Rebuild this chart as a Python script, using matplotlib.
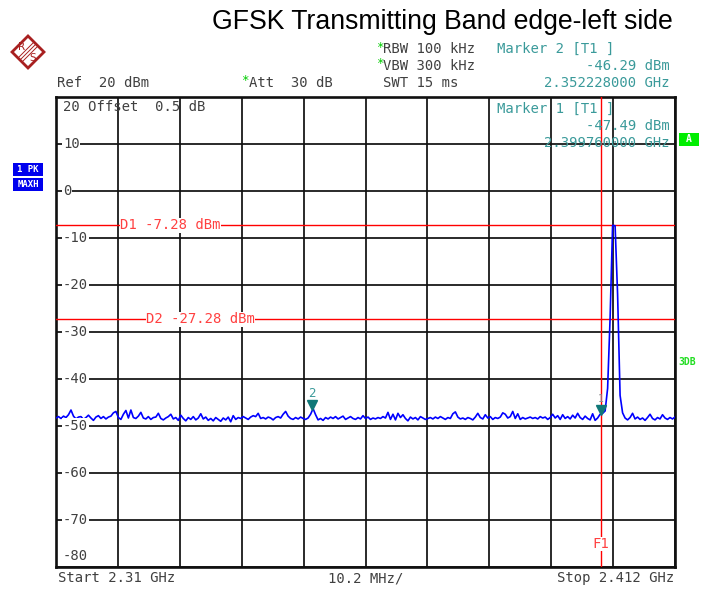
import numpy as np
import matplotlib
matplotlib.use("Agg")
import matplotlib.pyplot as plt
from matplotlib.patches import Polygon, Rectangle
import matplotlib.transforms as mtransforms

# sweep settings
f_start = 2.31
f_stop = 2.412
ref_level = 20
y_bottom = -80

# trace 1 (PK / MAXH), dBm, evenly spaced from start to stop
levels = [
    -48.3, -48.0, -48.4, -47.9, -48.2, -47.6, -46.6, -47.9, -48.5, -48.1,
    -48.0, -48.6, -48.2, -47.7, -48.3, -48.8, -48.1, -47.8, -48.4, -48.0,
    -48.5, -48.1, -47.9, -47.2, -46.9, -48.2, -48.6, -47.5, -46.7, -48.3,
    -46.6, -48.2, -48.4, -47.9, -47.1, -48.3, -48.5, -48.0, -48.6, -48.2,
    -48.1, -47.3, -48.4, -48.7, -48.3, -48.0, -47.5, -48.5, -48.2, -48.8,
    -47.7, -48.4, -48.9, -48.2, -48.6, -48.0, -48.7, -48.3, -47.4, -48.5,
    -48.1, -48.8, -48.4, -48.9, -48.2, -48.6, -49.0, -48.3, -48.7, -48.1,
    -49.1, -47.8, -48.6, -48.2, -48.4, -48.0, -48.3, -48.6, -48.1, -47.8,
    -48.0, -47.3, -48.4, -48.2, -48.5, -48.1, -48.3, -48.7, -48.2, -48.0,
    -48.3, -47.5, -46.9, -47.9, -48.4, -48.6, -48.2, -48.5, -48.1, -48.4,
    -48.6, -48.3, -47.5, -46.3, -47.6, -48.7, -48.4, -48.8, -48.2, -48.5,
    -48.1, -48.4, -48.0, -48.5, -48.2, -47.9, -48.6, -48.3, -48.0, -48.4,
    -48.6, -48.2, -48.5, -47.8, -48.4, -48.1, -48.6, -48.3, -48.5, -48.2,
    -48.4, -48.0, -48.3, -47.1, -48.6, -47.5, -48.7, -47.3, -48.2, -47.6,
    -48.4, -48.9, -48.1, -48.5, -48.2, -48.7, -48.0, -48.3, -48.6, -48.4,
    -48.2, -48.5, -48.1, -48.4, -48.0, -48.3, -48.6, -48.2, -48.4, -47.4,
    -47.0, -48.1, -48.5, -48.3, -48.6, -48.2, -48.4, -48.7, -48.1, -47.3,
    -48.2, -48.5, -47.6, -48.3, -48.0, -48.6, -48.2, -48.4, -48.1, -47.2,
    -47.5, -48.3, -48.0, -46.9, -48.4, -47.4, -48.6, -48.2, -48.5, -48.3,
    -48.1, -48.4, -48.2, -48.5, -48.0, -48.3, -48.1, -48.6, -48.2, -47.5,
    -48.3, -47.8, -48.6, -47.6, -48.4, -48.0, -48.5, -47.7, -48.3, -47.3,
    -48.2, -48.6, -47.9, -48.4, -48.7, -47.4, -48.8, -48.3, -47.5, -47.3,
    -46.8, -42.0, -27.0, -7.3, -7.4, -22.0, -43.5, -47.2,
    -48.3, -48.7, -48.2, -47.3, -48.5, -48.1, -48.6, -48.3, -48.8, -48.2,
    -47.5, -48.4, -48.7, -48.2, -48.5, -47.6, -48.3, -48.6, -48.2, -48.5,
    -48.1,
]

# markers
marker_names = ["1", "2"]
marker_freq = [2.39976, 2.352228]
marker_level = [-47.49, -46.29]

# display lines and frequency line
d_lines = [-7.28, -27.28]
d_labels = ["D1 -7.28 dBm", "D2 -27.28 dBm"]
d_label_x = [120, 146]
f1_freq = 2.39976

W, H = 702, 590
fig = plt.figure(figsize=(W / 100, H / 100), dpi=100)
mono = "DejaVu Sans Mono"
grey = "#404040"
teal = "#3a9a9a"


def fx(x):
    return x / W


def fy(y):
    return 1 - y / H


def ftext(x, y, s, **kw):
    kw.setdefault("family", mono)
    kw.setdefault("fontsize", 10)
    kw.setdefault("color", grey)
    kw.setdefault("va", "center")
    fig.text(fx(x), fy(y), s, **kw)


ax = fig.add_axes([fx(56), fy(567), 619 / W, 470 / H])
freq = np.linspace(f_start, f_stop, len(levels))
ax.set_xlim(f_start, f_stop)
ax.set_ylim(y_bottom, ref_level)
ax.set_xticks(np.linspace(f_start, f_stop, 11))
ax.set_yticks(np.arange(y_bottom, ref_level + 1, 10))
ax.tick_params(length=0, labelbottom=False, labelleft=False)
ax.grid(True, color="#101010", linewidth=1.25)
for sp in ax.spines.values():
    sp.set_linewidth(1.9)
    sp.set_color("#101010")

# trace
ax.plot(freq, levels, color="#0000ff", linewidth=1.2, zorder=4)

# display lines
for lvl, lab, lx in zip(d_lines, d_labels, d_label_x):
    ax.axhline(lvl, color="#ff0000", linewidth=1.0, zorder=3)
    ax.text(fx(lx), lvl, lab, transform=mtransforms.blended_transform_factory(fig.transFigure, ax.transData),
            family=mono, fontsize=10, color="#ff4040", va="center", ha="left",
            bbox=dict(facecolor="white", edgecolor="none", pad=0.3), zorder=5)

ax.axvline(f1_freq, color="#ff0000", linewidth=1.0, zorder=3)
ax.text(f1_freq, fy(544), "F1", transform=mtransforms.blended_transform_factory(ax.transData, fig.transFigure),
        family=mono, fontsize=10, color="#ff4040", va="center", ha="center",
        bbox=dict(facecolor="white", edgecolor="none", pad=0.3), zorder=5)

# y tick labels inside the grid
tick_vals = list(range(10, y_bottom - 1, -10))
for v in tick_vals:
    ypx = 97 + (ref_level - v) * 4.7
    if v == y_bottom:
        ypx = 556
    ftext(63, ypx, str(v), ha="left",
          bbox=dict(facecolor="white", edgecolor="none", pad=0.5), zorder=6)

# markers
for name, mf, ml in zip(marker_names, marker_freq, marker_level):
    tri = mtransforms.offset_copy(ax.transData, fig=fig, x=0, y=4, units="dots")
    ax.plot([mf], [ml], marker="v", markersize=7, color="#107878", transform=tri, zorder=6, clip_on=False)
    lab = mtransforms.offset_copy(ax.transData, fig=fig, x=0, y=15, units="dots")
    ax.text(mf, ml, name, transform=lab, family=mono, fontsize=9 if name == "2" else 7,
            color=teal if name == "2" else "#909090", ha="center", va="center", zorder=6)

# title
fig.text(fx(673), fy(22), "GFSK Transmitting Band edge-left side", family="Liberation Sans",
         fontsize=19.2, ha="right", va="center", color="black")

# header
ftext(57, 83, "Ref  20 dBm")
ftext(241, 81, "*", color="#00cc00", fontsize=9)
ftext(249, 83, "Att  30 dB")
ftext(376, 47, "*", color="#00cc00", fontsize=9)
ftext(383, 49, "RBW 100 kHz")
ftext(376, 64, "*", color="#00cc00", fontsize=9)
ftext(383, 66, "VBW 300 kHz")
ftext(383, 83, "SWT 15 ms")
ftext(497, 49, "Marker 2 [T1 ]", color=teal)
ftext(670, 66, "-46.29 dBm", color=teal, ha="right")
ftext(670, 83, "2.352228000 GHz", color=teal, ha="right")
ftext(497, 109, "Marker 1 [T1 ]", color=teal)
ftext(670, 126, "-47.49 dBm", color=teal, ha="right")
ftext(670, 143, "2.399760000 GHz", color=teal, ha="right")
ftext(63, 107, "20 Offset  0.5 dB")

# footer
ftext(58, 578, "Start 2.31 GHz")
ftext(366, 578, "10.2 MHz/", ha="center")
ftext(674, 578, "Stop 2.412 GHz", ha="right")

# side boxes
for y0, s in [(163, "1 PK"), (178, "MAXH")]:
    fig.patches.append(Rectangle((fx(13), fy(y0 + 13)), 30 / W, 13 / H, transform=fig.transFigure,
                                 facecolor="#0000ee", edgecolor="none"))
    ftext(28, y0 + 6.5, s, ha="center", color="white", fontsize=6.5, weight="bold")
fig.patches.append(Rectangle((fx(679), fy(146)), 20 / W, 13 / H, transform=fig.transFigure,
                             facecolor="#00ee00", edgecolor="none"))
ftext(689, 139.5, "A", ha="center", color="white", fontsize=7, weight="bold")
ftext(678, 362, "3DB", color="#22dd22", fontsize=7, weight="bold")

# R&S logo
cx, cy, r = 28, 52, 16
logo_red = "#a82020"
fig.patches.append(Polygon([(fx(cx - r), fy(cy)), (fx(cx), fy(cy - r)), (fx(cx + r), fy(cy)), (fx(cx), fy(cy + r))],
                           closed=True, transform=fig.transFigure, facecolor="white", edgecolor=logo_red, linewidth=2))
for d in (-2, 0, 2):
    fig.lines.append(plt.Line2D([fx(cx + 7 + d), fx(cx - 7 + d)], [fy(cy - 7 + d), fy(cy + 7 + d)],
                                transform=fig.transFigure, color=logo_red, linewidth=0.7))
ftext(cx - 6, cy - 5, "R", family="DejaVu Sans", fontsize=7.5, color=logo_red, ha="center")
ftext(cx + 5, cy + 6, "S", family="DejaVu Sans", fontsize=7.5, color=logo_red, ha="center")

fig.savefig("out.png", dpi=100)
